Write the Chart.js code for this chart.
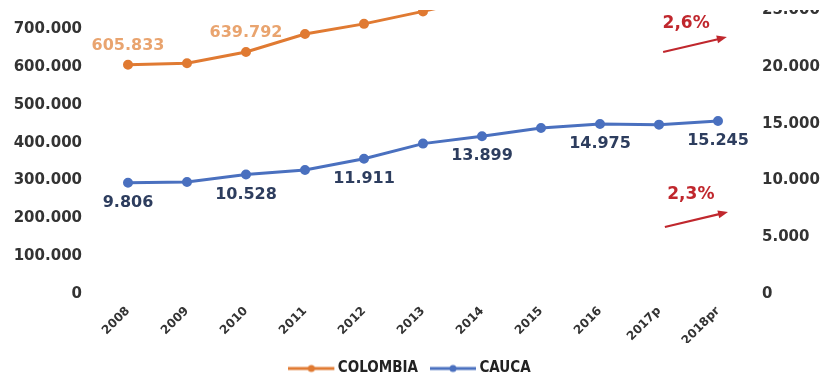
<!DOCTYPE html>
<html>
<head>
<meta charset="utf-8">
<script src="https://cdn.jsdelivr.net/npm/chart.js@4/dist/chart.umd.min.js"></script>
<style>
  html, body { margin: 0; padding: 0; background: #fff; overflow: hidden; }
  #wrap { position: absolute; left: 0; top: -60px; width: 825px; height: 446px; }
</style>
</head>
<body>
<div id="wrap"><canvas id="pibChart"></canvas></div>
<script>
const years = ['2008', '2009', '2010', '2011', '2012', '2013', '2014', '2015', '2016', '2017p', '2018pr'];
const colombia = [605833, 610000, 639792, 687000, 714000, 747000, 781589, 804692, 821489, 832656, 854008];
const cauca = [9806, 9860, 10528, 10925, 11911, 13250, 13899, 14630, 14975, 14920, 15245];
const labeledPoints = [0, 2, 4, 6, 8, 10];

// growth arrows, placed in axis units (x = category index)
const growthNotes = [
  { text: '2,6%', axis: 'yLeft', from: [9.07, 639600], to: [10.15, 679000], at: [9.46, 716000] },
  { text: '2,3%', axis: 'yRight', from: [9.1, 5900], to: [10.17, 7220], at: [9.54, 8720] }
];

const orange = '#e07a32';
const blue = '#4a70bf';
const red = '#c0272d';

const fmt = v => String(Math.round(v)).replace(/\B(?=(\d{3})+(?!\d))/g, '.');

const legendIcon = color => {
  const c = document.createElement('canvas');
  c.width = 48; c.height = 10;
  const g = c.getContext('2d');
  g.strokeStyle = color; g.lineWidth = 3;
  g.beginPath(); g.moveTo(0, 5); g.lineTo(46, 5); g.stroke();
  g.fillStyle = color;
  g.beginPath(); g.arc(23, 5, 3.5, 0, Math.PI * 2); g.fill();
  return c;
};
const legendIcons = [legendIcon(orange), legendIcon(blue)];

const pointLabels = {
  id: 'pointLabels',
  afterDatasetsDraw(chart) {
    const ctx = chart.ctx;
    ctx.save();
    ctx.font = 'bold 16px "DejaVu Sans"';
    ctx.textAlign = 'center';
    ctx.textBaseline = 'middle';
    chart.data.datasets.forEach((ds, di) => {
      const meta = chart.getDatasetMeta(di);
      ctx.fillStyle = di === 0 ? '#e9a46f' : '#2d3d5e';
      labeledPoints.forEach(i => {
        const pt = meta.data[i];
        ctx.fillText(fmt(ds.data[i]), pt.x, di === 0 ? pt.y - 19 : pt.y + 20);
      });
    });
    ctx.restore();
  }
};

const growthArrows = {
  id: 'growthArrows',
  afterDraw(chart) {
    const ctx = chart.ctx;
    const xs = chart.scales.x;
    ctx.save();
    growthNotes.forEach(n => {
      const ys = chart.scales[n.axis];
      const x1 = xs.getPixelForValue(n.from[0]), y1 = ys.getPixelForValue(n.from[1]);
      const x2 = xs.getPixelForValue(n.to[0]), y2 = ys.getPixelForValue(n.to[1]);
      const ang = Math.atan2(y2 - y1, x2 - x1);
      ctx.strokeStyle = red; ctx.fillStyle = red; ctx.lineWidth = 2.2;
      ctx.beginPath();
      ctx.moveTo(x1, y1);
      ctx.lineTo(x2 - 7 * Math.cos(ang), y2 - 7 * Math.sin(ang));
      ctx.stroke();
      ctx.beginPath();
      ctx.moveTo(x2, y2);
      ctx.lineTo(x2 - 10 * Math.cos(ang) + 4 * Math.sin(ang), y2 - 10 * Math.sin(ang) - 4 * Math.cos(ang));
      ctx.lineTo(x2 - 10 * Math.cos(ang) - 4 * Math.sin(ang), y2 - 10 * Math.sin(ang) + 4 * Math.cos(ang));
      ctx.closePath();
      ctx.fill();
      ctx.font = 'bold 17px "DejaVu Sans"';
      ctx.textAlign = 'center';
      ctx.textBaseline = 'middle';
      ctx.fillText(n.text, xs.getPixelForValue(n.at[0]), ys.getPixelForValue(n.at[1]));
    });
    ctx.restore();
  }
};

// the source figure is cut off at the top edge
const topCrop = {
  id: 'topCrop',
  afterDraw(chart) {
    chart.ctx.save();
    chart.ctx.fillStyle = '#fff';
    chart.ctx.fillRect(0, 0, chart.width, 70);
    chart.ctx.restore();
  }
};

const tickFont = { family: 'DejaVu Sans', size: 15, weight: 'bold' };

// fixed axis widths; drop the vertical padding that the big tick padding adds
const fixWidth = w => s => { s.width = w; s.paddingTop = 0; s.paddingBottom = 0; };

new Chart(document.getElementById('pibChart'), {
  type: 'line',
  data: {
    labels: years,
    datasets: [{
      label: 'COLOMBIA',
      data: colombia,
      yAxisID: 'yLeft',
      borderColor: orange,
      backgroundColor: orange,
      borderWidth: 3,
      pointRadius: 3.5,
      tension: 0
    }, {
      label: 'CAUCA',
      data: cauca,
      yAxisID: 'yRight',
      borderColor: blue,
      backgroundColor: blue,
      borderWidth: 3,
      pointRadius: 3.5,
      tension: 0
    }]
  },
  options: {
    responsive: true,
    maintainAspectRatio: false,
    animation: false,
    layout: { padding: { top: 13.5, left: 0, right: 0, bottom: 0 } },
    plugins: {
      tooltip: { enabled: false },
      legend: {
        position: 'bottom',
        labels: {
          usePointStyle: true,
          pointStyleWidth: 36,
          padding: 18,
          color: '#222',
          font: { family: 'DejaVu Sans Condensed', size: 15, weight: 'bold' },
          generateLabels: chart => Chart.defaults.plugins.legend.labels.generateLabels(chart)
            .map((item, i) => Object.assign(item, { pointStyle: legendIcons[i] }))
        }
      }
    },
    scales: {
      x: {
        offset: false,
        grid: { display: false, drawTicks: false },
        border: { display: false },
        ticks: { color: '#333', font: { family: 'DejaVu Sans', size: 12, weight: 'bold' }, maxRotation: 45, minRotation: 45, padding: 10 },
        afterFit: s => { s.height = 49; }
      },
      yLeft: {
        position: 'left',
        min: 0, max: 900000,
        grid: { display: false, drawTicks: false },
        border: { display: false },
        ticks: { stepSize: 100000, color: '#333', font: tickFont, padding: 46, callback: v => fmt(v) },
        afterFit: fixWidth(128)
      },
      yRight: {
        position: 'right',
        min: 0, max: 30000,
        grid: { display: false, drawTicks: false },
        border: { display: false },
        ticks: { stepSize: 5000, color: '#333', font: tickFont, padding: 44, callback: v => fmt(v) },
        afterFit: fixWidth(107)
      }
    }
  },
  plugins: [pointLabels, growthArrows, topCrop]
});
</script>
</body>
</html>
